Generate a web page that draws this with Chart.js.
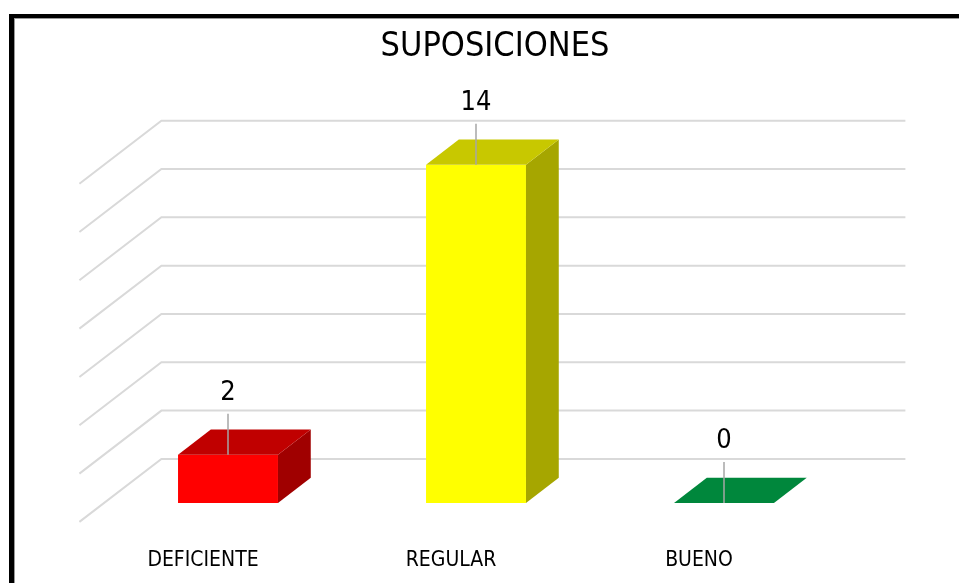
<!DOCTYPE html>
<html><head><meta charset="utf-8">
<script src="https://cdn.jsdelivr.net/npm/chart.js@4.4.1/dist/chart.umd.min.js"></script>
<style>
html,body{margin:0;padding:0;background:#fff;}
#wrap{position:relative;width:959px;height:583px;overflow:hidden;background:#fff;}
canvas{position:absolute;left:0;top:0;}
#frame{position:absolute;left:9px;top:14px;width:2000px;height:2000px;border-left:5px solid #000;border-top:4px solid #000;box-sizing:border-box;}
#frame2{position:absolute;left:14px;top:18px;width:2000px;height:2000px;border-left:1px solid #999;border-top:1px solid #999;}
</style></head>
<body><div id="wrap"><canvas id="c" width="959" height="583"></canvas><div id="frame"></div><div id="frame2"></div></div>
<script>
const chartTitle = 'SUPOSICIONES';
const categories = ['DEFICIENTE', 'REGULAR', 'BUENO'];
const values = [2, 14, 0];
const yTicks = [0, 2, 4, 6, 8, 10, 12, 14];
const frontColors = ['#FF0000', '#FFFF00', '#00873C'];
const topColors = ['#C00000', '#C8C800', '#00873C'];
const sideColors = ['#A00000', '#A6A600', '#006A2F'];

const FONT = '"Liberation Sans Narrow", "DejaVu Sans Condensed", "Liberation Sans", sans-serif';

const DX = 82, DY = 63;         // full depth of the 3D box
const FRONT = 0.3, DEPTH = 0.4; // bar placement in depth

const bar3d = {
  id: 'bar3d',
  beforeDatasetsDraw(chart) {
    const ctx = chart.ctx, ys = chart.scales.y, ca = chart.chartArea;
    const backX = (1 - FRONT) * DX, backY = (1 - FRONT) * DY;
    ctx.save();
    ctx.strokeStyle = '#D9D9D9';
    ctx.lineWidth = 2;
    yTicks.forEach(v => {
      const yb = ys.getPixelForValue(v) - backY;
      ctx.beginPath();
      ctx.moveTo(ca.left - FRONT * DX, yb + DY);
      ctx.lineTo(ca.left + backX, yb);
      ctx.lineTo(ca.right + backX, yb);
      ctx.stroke();
    });
    ctx.restore();
  },
  afterDatasetsDraw(chart) {
    const ctx = chart.ctx;
    const meta = chart.getDatasetMeta(0);
    const bx = DEPTH * DX, by = DEPTH * DY;
    ctx.save();
    meta.data.forEach((bar, i) => {
      const l = bar.x - bar.width / 2, r = bar.x + bar.width / 2;
      const yt = Math.min(bar.y, bar.base), yb = Math.max(bar.y, bar.base);
      if (yb - yt > 0.5) {
        ctx.fillStyle = sideColors[i];
        ctx.beginPath();
        ctx.moveTo(r, yt); ctx.lineTo(r + bx, yt - by);
        ctx.lineTo(r + bx, yb - by); ctx.lineTo(r, yb);
        ctx.closePath(); ctx.fill();
      }
      ctx.fillStyle = topColors[i];
      ctx.beginPath();
      ctx.moveTo(l, yt); ctx.lineTo(r, yt);
      ctx.lineTo(r + bx, yt - by); ctx.lineTo(l + bx, yt - by);
      ctx.closePath(); ctx.fill();
      ctx.strokeStyle = '#A6A6A6';
      ctx.lineWidth = 1.5;
      ctx.beginPath();
      ctx.moveTo(bar.x, yt - 41); ctx.lineTo(bar.x, yt);
      ctx.stroke();
      ctx.fillStyle = '#000';
      ctx.font = '27px ' + FONT;
      ctx.textAlign = 'center';
      ctx.textBaseline = 'middle';
      ctx.fillText(String(values[i]), bar.x, yt - 62);
    });
    ctx.restore();
  }
};

const hiddenAxis = (w, pos) => ({
  display: true, position: pos, min: 0, max: 14,
  grid: { display: false }, border: { display: false }, ticks: { display: false },
  afterFit(scale) { scale.width = w; }
});

new Chart(document.getElementById('c'), {
  type: 'bar',
  data: {
    labels: categories,
    datasets: [{
      data: values,
      backgroundColor: frontColors,
      borderWidth: 0,
      categoryPercentage: 1,
      barPercentage: 0.403
    }]
  },
  options: {
    responsive: false,
    animation: false,
    events: [],
    layout: { padding: { left: 31, right: 0, top: 0, bottom: 0 } },
    plugins: {
      legend: { display: false },
      tooltip: { enabled: false },
      title: {
        display: true, text: chartTitle, color: '#000',
        font: { family: FONT, size: 34, weight: 'normal', lineHeight: 1.2 },
        padding: { top: 27, bottom: 97 }
      }
    },
    scales: {
      x: {
        grid: { display: false },
        border: { display: false },
        ticks: { color: '#000', labelOffset: -25, padding: 37, font: { family: FONT, size: 21 } },
        afterFit(scale) { scale.height = 80; }
      },
      y: hiddenAxis(73, 'left'),
      y2: hiddenAxis(111, 'right')
    }
  },
  plugins: [bar3d]
});
</script>
</body></html>
